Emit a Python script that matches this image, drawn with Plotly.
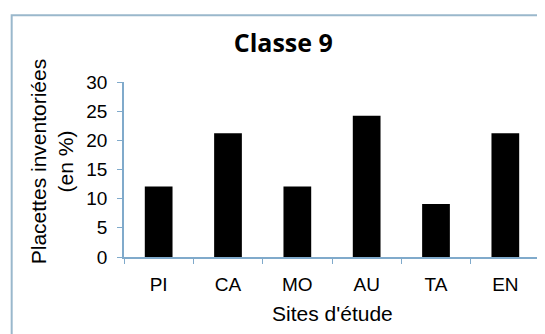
import plotly.graph_objects as go

sites = ["PI", "CA", "MO", "AU", "TA", "EN"]
pourcentages = [12.1, 21.2, 12.1, 24.2, 9.1, 21.2]
y_ticks = [0, 5, 10, 15, 20, 25, 30]

axis_col = "#80aacb"
font_txt = "Liberation Sans, Arial, sans-serif"

fig = go.Figure()
fig.add_trace(go.Bar(x=sites, y=pourcentages, marker=dict(color="black", line=dict(width=0)),
                     width=0.4, showlegend=False))

# the page body adds 8px around the figure, so the figure is 8px smaller
fig.update_layout(
    width=537, height=326,
    margin=dict(l=116, r=5, t=74, b=77),
    paper_bgcolor="white", plot_bgcolor="white",
    font=dict(family=font_txt, size=18, color="black"),
    title=dict(text="<b>Classe 9</b>", x=0.383, xref="paper", xanchor="center",
               y=1 - 35 / 326, yanchor="middle",
               font=dict(family="Open Sans, sans-serif", size=25, color="black")),
)
fig.update_xaxes(showline=True, linecolor=axis_col, linewidth=1.5, ticks="outside",
                 tickson="boundaries", ticklen=5, tickcolor=axis_col, showgrid=False,
                 automargin=False, ticklabelstandoff=9,
                 tickfont=dict(size=19))
fig.update_yaxes(range=[0, 30], tickvals=y_ticks, showline=True, linecolor=axis_col,
                 linewidth=1.5, ticks="outside", ticklen=5, tickcolor=axis_col,
                 showgrid=False, zeroline=False, automargin=False, ticklabelstandoff=6,
                 tickfont=dict(size=19))

fig.add_annotation(text="Sites d'étude", xref="paper", yref="paper", x=0.5, y=-0.322,
                   xanchor="center", yanchor="middle", showarrow=False,
                   font=dict(size=21))
fig.add_annotation(text="Placettes inventoriées<br>(en %)", xref="paper", yref="paper",
                   x=-0.174, y=0.545, textangle=-90, xanchor="center", yanchor="middle",
                   showarrow=False, font=dict(size=21))

# cadre du graphique
fig.add_shape(type="rect", xref="paper", yref="paper",
              x0=-0.270, x1=1.05, y0=-0.6, y1=1.381,
              line=dict(color="#9ab8cc", width=2), layer="below")

fig.write_html("out.html")
